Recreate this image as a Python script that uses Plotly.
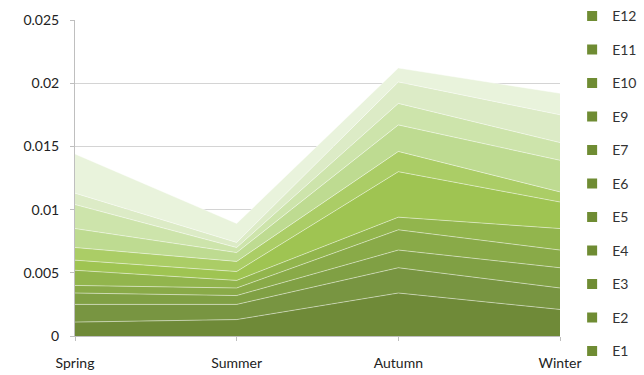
import plotly.graph_objects as go

seasons = ["Spring", "Summer", "Autumn", "Winter"]
series_names = ["E1", "E2", "E3", "E4", "E5", "E6", "E7", "E9", "E10", "E11", "E12"]
E1 = [0.0011, 0.0013, 0.0034, 0.0021]
E2 = [0.0014, 0.0012, 0.0020, 0.0017]
E3 = [0.0009, 0.0007, 0.0014, 0.0016]
E4 = [0.0006, 0.0006, 0.0016, 0.0014]
E5 = [0.0012, 0.0006, 0.0010, 0.0017]
E6 = [0.0008, 0.0007, 0.0036, 0.0021]
E7 = [0.0010, 0.0008, 0.0016, 0.0008]
E9 = [0.0015, 0.0007, 0.0021, 0.0025]
E10 = [0.0019, 0.0004, 0.0017, 0.0014]
E11 = [0.0009, 0.0004, 0.0017, 0.0022]
E12 = [0.0031, 0.0015, 0.0011, 0.0017]
series_values = [E1, E2, E3, E4, E5, E6, E7, E9, E10, E11, E12]
y_ticks = [0, 0.005, 0.01, 0.015, 0.02, 0.025]
y_tick_labels = ["0", "0.005", "0.01", "0.015", "0.02", "0.025"]

fills = ["#6f8a38", "#789541", "#80a044", "#89aa48", "#92b54d", "#9fc452",
         "#abcd66", "#bedb91", "#cde4ab", "#dcebc6", "#e9f3dc"]
legend_color = "#6f8c33"
font_family = "Lato, 'Open Sans', sans-serif"

fig = go.Figure()
for name, vals, col in zip(series_names, series_values, fills):
    fig.add_trace(go.Scatter(
        x=seasons, y=vals, name=name, stackgroup="one", mode="lines",
        line=dict(width=1, color="rgba(255,255,255,0.45)"),
        fillcolor=col, showlegend=False, hoverinfo="x+y+name"))

# legend entries, top = E12 (reference shows same olive square for all)
for name in reversed(series_names):
    fig.add_trace(go.Scatter(
        x=[None], y=[None], name=name, mode="markers",
        marker=dict(symbol="square", size=10, color=legend_color),
        legendgroup=name, showlegend=True))

fig.update_layout(
    width=644, height=375,
    margin=dict(l=75, r=84, t=20, b=39, autoexpand=False),
    paper_bgcolor="white", plot_bgcolor="white",
    font=dict(family=font_family, size=14, color="#222"),
    legend=dict(x=1.025, xanchor="left", y=1.062, yanchor="top",
                traceorder="grouped", tracegroupgap=12.3,
                font=dict(size=14, color="#333"), maxheight=400,
                itemwidth=30, bgcolor="rgba(0,0,0,0)"),
    xaxis=dict(type="category", range=[0, 3], showgrid=False,
               showline=True, linecolor="#bfbfbf", linewidth=1,
               ticks="outside", ticklen=4, tickcolor="#bfbfbf",
               ticklabelstandoff=10,
               tickfont=dict(size=14, color="#222")),
    yaxis=dict(range=[0, 0.025], tickvals=y_ticks, ticktext=y_tick_labels,
               showgrid=True, gridcolor="#d4d4d4", gridwidth=1,
               showline=True, linecolor="#bfbfbf", linewidth=1,
               ticks="outside", ticklen=4, tickcolor="#bfbfbf",
               ticklabelstandoff=8,
               zeroline=False, tickfont=dict(size=14, color="#222")),
)

fig.write_html("out.html")
